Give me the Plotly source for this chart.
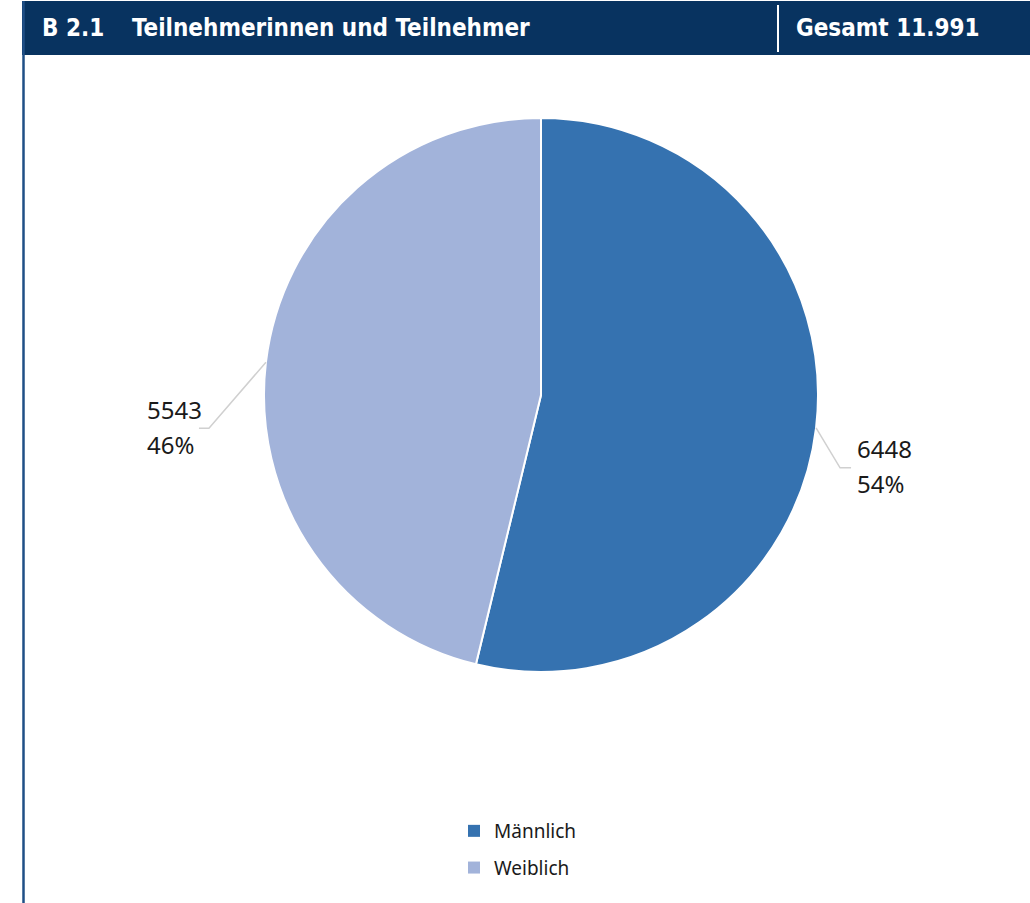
import math
import plotly.graph_objects as go

categories = ["Männlich", "Weiblich"]
values = [6448, 5543]
colors = ["#3572b0", "#a2b3da"]
title_code = "B 2.1"
title_text = "Teilnehmerinnen und Teilnehmer"
total_text = "Gesamt 11.991"

W, H = 1030, 903
cx, cy, r = 541, 395, 277  # pie centre/radius in screen px (layout)


def px(x):
    return x / W


def py(y):
    return 1 - y / H


fig = go.Figure(go.Pie(
    labels=categories, values=values, sort=False, direction="clockwise", rotation=0,
    marker=dict(colors=colors, line=dict(color="white", width=2)),
    textinfo="none", hoverinfo="label+value+percent", showlegend=False,
    domain=dict(x=[px(cx - r), px(cx + r)], y=[py(cy + r), py(cy - r)]),
))

# legend entries (square swatches) for each category
for i, (c, col) in enumerate(zip(categories, colors)):
    fig.add_trace(go.Scatter(x=[None], y=[None], mode="markers", name=c,
                             legendgroup=f"g{i}", showlegend=True,
                             marker=dict(symbol="square", size=12, color=col)))

shapes = []
annotations = []
lfont = dict(family="Noto Sans, Open Sans, sans-serif", size=24, color="#1a1a1a")
total = sum(values)
cum = 0
for i, v in enumerate(values):
    mid = (cum + v / 2) / total * 2 * math.pi
    cum += v
    ex = cx + r * math.sin(mid)
    ey = cy - r * math.cos(mid)
    pct = round(v / total * 100)
    if math.sin(mid) >= 0:
        kx, ky = ex + 24, ey + 40
        hx = kx + 11
        tx = hx + 4
    else:
        kx, ky = ex - 57, ey + 66
        hx = kx - 10
        tx = hx - 54
    shapes.append(dict(type="path", xref="paper", yref="paper",
                       path=f"M {px(ex)},{py(ey)} L {px(kx)},{py(ky)} L {px(hx)},{py(ky)}",
                       line=dict(color="#d0d0d0", width=1.5)))
    for t, dy in ((str(v), -19), (f"{pct}%", 16)):
        annotations.append(dict(x=px(tx), y=py(ky + dy), xref="paper", yref="paper",
                                text=t, showarrow=False, xanchor="left", yanchor="middle",
                                font=lfont))

# header bar and frame
shapes.append(dict(type="rect", xref="paper", yref="paper", x0=px(22), x1=1.02, y0=py(55), y1=py(1),
                   fillcolor="#083360", line=dict(width=0), layer="below"))
shapes.append(dict(type="line", xref="paper", yref="paper", x0=px(23.5), x1=px(23.5), y0=-0.05, y1=py(1),
                   line=dict(color="#1f4f86", width=2.5)))
shapes.append(dict(type="line", xref="paper", yref="paper", x0=px(778), x1=px(778), y0=py(5), y1=py(52),
                   line=dict(color="white", width=2)))

hfont = dict(family="DejaVu Sans Condensed, Roboto, sans-serif", size=24, color="white")
for x0, t in ((40, title_code), (130, title_text), (794, total_text)):
    annotations.append(dict(x=px(x0), y=py(28), xref="paper", yref="paper", text=f"<b>{t}</b>",
                            showarrow=False, xanchor="left", yanchor="middle", font=hfont))

fig.update_layout(
    width=W, height=H, margin=dict(l=0, r=0, t=0, b=0),
    paper_bgcolor="white", plot_bgcolor="white",
    xaxis=dict(visible=False), yaxis=dict(visible=False),
    shapes=shapes, annotations=annotations,
    showlegend=True,
    legend=dict(x=px(454), y=py(812), xanchor="left", yanchor="top", orientation="v",
                font=dict(family="Noto Sans, Open Sans, sans-serif", size=19, color="#1a1a1a"),
                tracegroupgap=9, itemwidth=30, bgcolor="rgba(0,0,0,0)"),
)

fig.write_html("out.html", config={"displayModeBar": False},
               post_script="document.body.style.margin='0';document.body.style.overflow='hidden';")
